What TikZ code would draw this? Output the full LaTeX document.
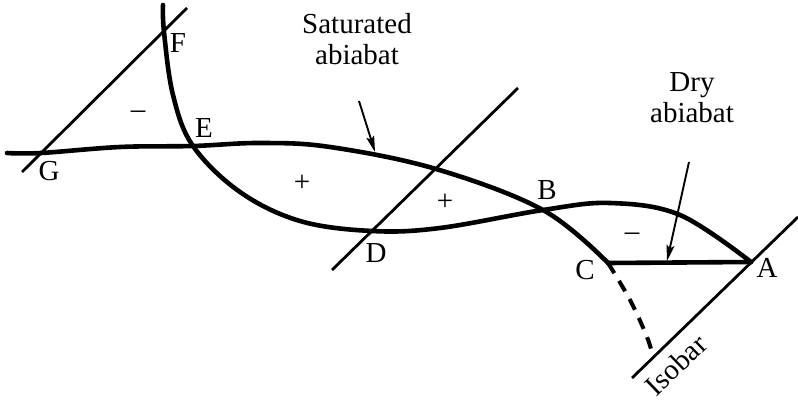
\documentclass[tikz,border=0pt]{standalone}
\usepackage{fontspec}
\setmainfont{Liberation Serif}
\usetikzlibrary{arrows.meta}
\begin{document}
\begin{tikzpicture}[x=1pt,y=-1pt,
  thickcurve/.style={line width=4.6pt,line cap=round},
  isobar/.style={line width=2.8pt},
  pointer/.style={line width=1.9pt,-{Stealth[length=16pt,width=8pt,inset=3pt]}},
  lbl/.style={font=\fontsize{29}{33}\selectfont,inner sep=0pt},
  txt/.style={font=\fontsize{29}{31}\selectfont,inner sep=0pt,align=center}]
\useasboundingbox (0,0) rectangle (798,401);
% key points
\coordinate (G) at (41,153);
\coordinate (F) at (164,32);
\coordinate (E) at (193,146);
\coordinate (D) at (372,231);
\coordinate (B) at (543,210);
\coordinate (C) at (608,263);
\coordinate (A) at (751,262);
% isobar ends
\coordinate (L1) at (22,172);
\coordinate (L2) at (187,8);
\coordinate (M1) at (332,270);
\coordinate (M2) at (518,88);
\coordinate (R1) at (632,378);
\coordinate (R2) at (798,217);
\coordinate (Q) at (653,357);
\coordinate (Iso) at (676,365);
% isobars
\draw[isobar] (L1) -- (L2);
\draw[isobar] (M1) -- (M2);
\draw[isobar] (R1) -- (R2);
% saturated adiabat
\draw[thickcurve] plot[smooth,tension=0.6] coordinates
  {(7,153) (G) (120,147) (E) (260,143) (330,147) (436,169) (B) (C)};
% environment curve
\draw[thickcurve] plot[smooth,tension=0.6] coordinates
  {(163,5) (F) (173,95) (E) (240,192) (300,221) (D) (440,228) (B) (610,203) (680,215) (A)};
% dry adiabat
\draw[thickcurve] (C) -- (A);
% dashed continuation
\draw[line width=4pt,dash pattern=on 12pt off 9pt] plot[smooth,tension=0.6] coordinates
  {(C) (630,300) (647,337) (Q)};
% pointers
\coordinate (s0) at (359,101);
\coordinate (s1) at (375,152);
\coordinate (d0) at (689,162);
\coordinate (d1) at (667,261);
\draw[pointer] (s0) -- (s1);
\draw[pointer] (d0) -- (d1);
% labels
\node[lbl] (lF) at (178,43) {F};
\node[lbl] (lE) at (204,128) {E};
\node[lbl] (lG) at (49,171) {G};
\node[lbl] (lD) at (376,253) {D};
\node[lbl] (lB) at (547,190) {B};
\node[lbl] (lC) at (585,270) {C};
\node[lbl] (lA) at (767,268) {A};
\node[txt,anchor=base] (sat) at (357,65) {Saturated\\abiabat};
\node[txt,anchor=base] (dry) at (692,123) {Dry\\abiabat};
\node[lbl,rotate=44] (iso) at (Iso) {Isobar};
\node[lbl] (m1) at (138,115) {–};
\node[lbl] (m2) at (632,237) {–};
\node[lbl] (p1) at (302,183) {+};
\node[lbl] (p2) at (445,202) {+};
\end{tikzpicture}
\end{document}
